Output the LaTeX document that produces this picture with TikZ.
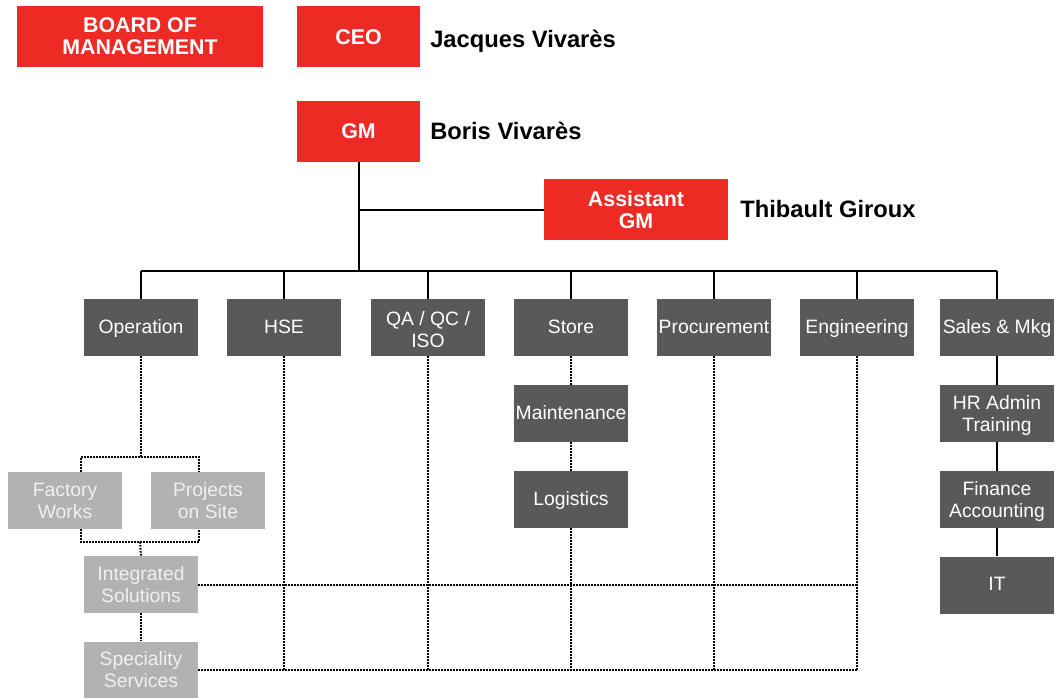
\documentclass[tikz,border=0pt]{standalone}
\usepackage{fontspec}
\setmainfont{Liberation Sans}
\definecolor{boxred}{HTML}{EE2A24}
\definecolor{boxdark}{HTML}{58595B}
\definecolor{boxlight}{HTML}{B1B2B4}
\begin{document}
\begin{tikzpicture}[x=0.75pt,y=0.75pt,
  redbox/.style={fill=boxred,text=white,font=\fontsize{16}{16.5}\selectfont\bfseries,
    align=center,inner sep=0pt,minimum height=45.75pt,
    execute at begin node={\rule{0pt}{14.9pt}},
    execute at end node={\rule[-3.4pt]{0pt}{3.4pt}}},
  darkbox/.style={fill=boxdark,text=white,font=\fontsize{14.5}{16.5}\selectfont,
    align=center,inner sep=0pt,minimum width=85.5pt,minimum height=42.75pt,
    execute at begin node={\rule{0pt}{12.1pt}},
    execute at end node={\rule[-3.2pt]{0pt}{3.2pt}}},
  lightbox/.style={darkbox,fill=boxlight,text=white!94!black},
  twolines/.style={execute at begin node={\rule{0pt}{#1}}},
  twolines/.default=30.1pt,
  personname/.style={anchor=base west,inner sep=0pt,font=\fontsize{17.8}{20}\selectfont\bfseries},
  solidline/.style={line width=1.5pt},
  dotline/.style={line width=1.5pt,dash pattern=on 1.2pt off 1.05pt}]
\useasboundingbox (0,0) rectangle (1056,-697);
% top of the chart
\node[redbox,twolines=31pt,minimum width=184.5pt] (board) at (140,-36.5) {BOARD OF\\MANAGEMENT};
\node[redbox,minimum width=92.25pt] (ceo) at (358.5,-36.5) {CEO};
\node[redbox,minimum width=92.25pt] (gm) at (358.5,-131) {GM};
\node[redbox,twolines=32.5pt,minimum width=138pt] (agm) at (636,-209.5) {Assistant\\GM};
\node[personname] (ceoname) at (430,-47) {Jacques Vivarès};
\node[personname] (gmname) at (430,-139) {Boris Vivarès};
\node[personname] (agmname) at (740,-217) {Thibault Giroux};
% departments
\foreach \n/\x/\t in {op/141/Operation,hse/284/HSE,store/571/Store,
    proc/714/Procurement,eng/857/Engineering,sales/997/Sales \& Mkg}
  \node[darkbox] (\n) at (\x,-327.5) {\t};
\node[darkbox,twolines=33.1pt] (qa) at (428,-327.5) {QA / QC /\\ISO};
\node[darkbox] (maint) at (571,-413.5) {Maintenance};
\node[darkbox] (logi) at (571,-499.5) {Logistics};
\node[darkbox,twolines] (hr) at (997,-413.5) {HR Admin\\Training};
\node[darkbox,twolines] (fin) at (997,-499.5) {Finance\\Accounting};
\node[darkbox] (it) at (997,-585) {IT};
% operation units
\node[lightbox,twolines] (factory) at (65,-500.5) {Factory\\Works};
\node[lightbox,twolines] (projects) at (208,-500.5) {Projects\\on Site};
\node[lightbox,twolines] (integ) at (141,-584.5) {Integrated\\Solutions};
\node[lightbox,twolines] (spec) at (141,-670) {Speciality\\Services};
\coordinate (bar) at (0,-271);
\coordinate (brl) at (81,-457);
\coordinate (brr) at (199,-457);
\coordinate (brb) at (140,-542);
% solid lines
\draw[solidline] (gm.south) -- (gm.south |- bar);
\draw[solidline] (gm.south |- agm.west) -- (agm.west);
\draw[solidline] (op.north |- bar) -- (sales.north |- bar);
\foreach \n in {op,hse,qa,store,proc,eng,sales}
  \draw[solidline] (\n.north) -- (\n.north |- bar);
\draw[solidline] (sales.south) -- (hr.north);
\draw[solidline] (hr.south) -- (fin.north);
\draw[solidline] (fin.south) -- (it.north);
% dotted lines
\draw[dotline] (op.south) -- (op.south |- brl);
\draw[dotline] (brl |- factory.north) -- (brl) -- (brr) -- (brr |- projects.north);
\draw[dotline] (brl |- factory.south) -- (brl |- brb) -- (brr |- brb) -- (brr |- projects.south);
\draw[dotline] (brb) -- (integ.north);
\draw[dotline] (integ.south) -- (spec.north);
\draw[dotline] (integ.east) -- (integ.east -| eng.south);
\draw[dotline] (spec.east) -- (spec.east -| eng.south);
\foreach \n in {hse,qa,proc,eng}
  \draw[dotline] (\n.south) -- (\n.south |- spec.east);
\draw[dotline] (store.south) -- (maint.north);
\draw[dotline] (maint.south) -- (logi.north);
\draw[dotline] (logi.south) -- (logi.south |- spec.east);
\end{tikzpicture}
\end{document}
